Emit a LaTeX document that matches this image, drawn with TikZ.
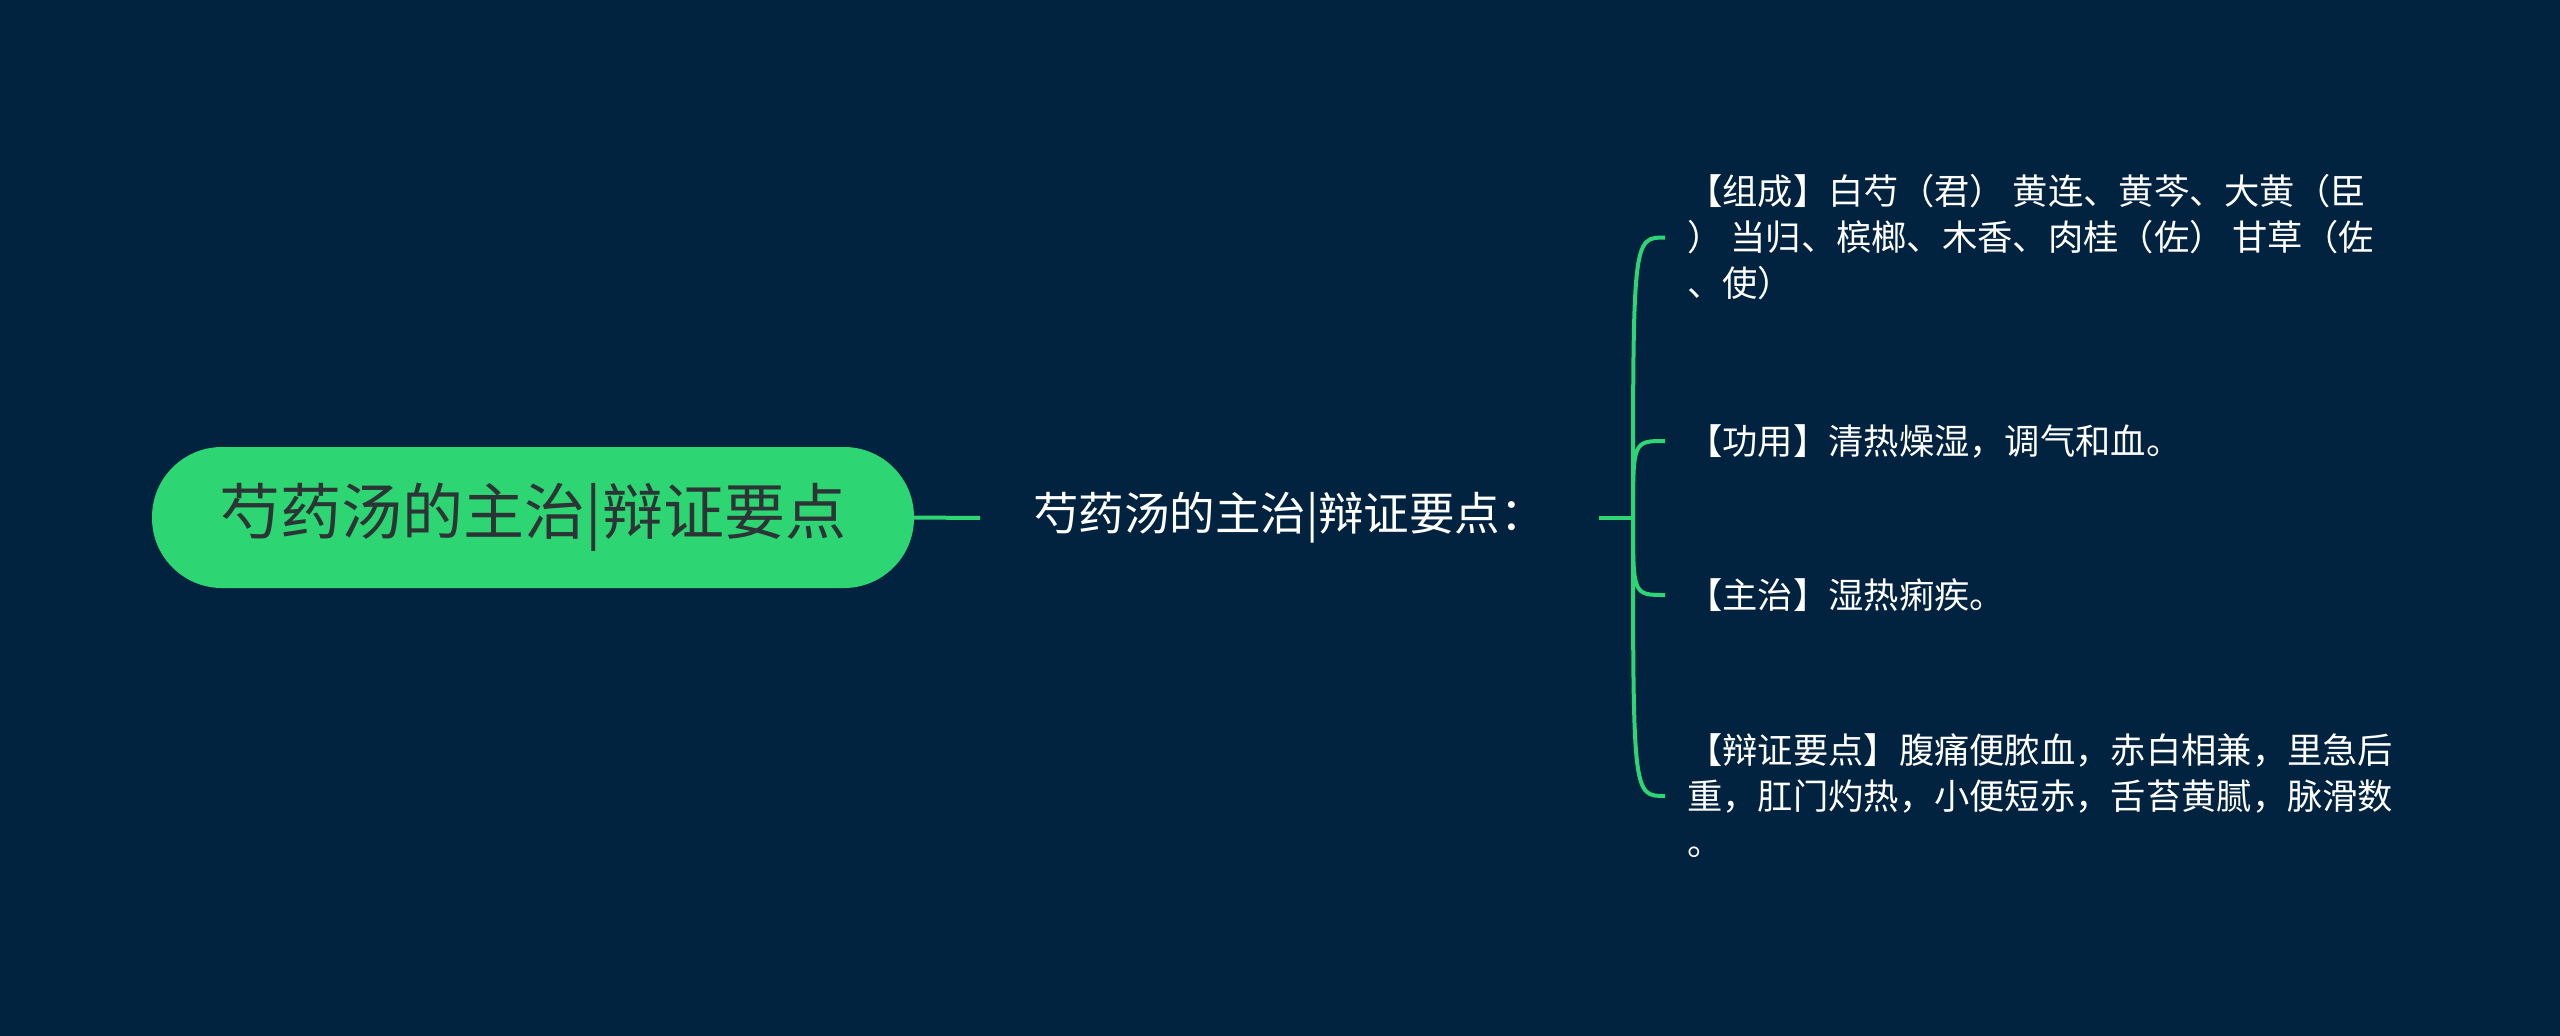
\documentclass[tikz,border=0pt]{standalone}
\usepackage{fontspec}
\newfontfamily\cjk{Noto Sans CJK SC}
\definecolor{bg}{HTML}{012340}
\definecolor{brgreen}{HTML}{2ED573}
\definecolor{roottext}{HTML}{2D3436}
\begin{document}
\begin{tikzpicture}[x=1pt,y=-1pt,
  rootnode/.style={fill=brgreen, rounded corners=70pt, minimum width=762pt, minimum height=141pt,
    text=roottext, font=\cjk\fontsize{61}{72}\selectfont, inner sep=0pt},
  midnode/.style={text=white, font=\cjk\fontsize{45.5}{54}\selectfont, inner xsep=53pt, inner ysep=0pt},
  leafnode/.style={text=white, font=\cjk\fontsize{35.3}{46}\selectfont, align=left,
    inner xsep=22pt, inner ysep=0pt, anchor=west},
  link/.style={draw=brgreen, line width=4pt}]
\fill[bg] (0,0) rectangle (2560,1036);
\useasboundingbox (0,0) rectangle (2560,1036);

\node[rootnode] (root) at (533,517.5) {芍药汤的主治|辩证要点};
\node[midnode, anchor=west] (mid) at (980,518) {芍药汤的主治|辩证要点：};
\coordinate (J) at (1633,518);

\node[leafnode] (c1) at (1665,237.5) {【组成】白芍（君） 黄连、黄芩、大黄（臣\\） 当归、槟榔、木香、肉桂（佐） 甘草（佐\\、使）};
\node[leafnode] (c2) at (1665,441) {【功用】清热燥湿，调气和血。};
\node[leafnode] (c3) at (1665,595) {【主治】湿热痢疾。};
\node[leafnode] (c4) at (1665,796) {【辩证要点】腹痛便脓血，赤白相兼，里急后\\重，肛门灼热，小便短赤，舌苔黄腻，脉滑数\\。};

\draw[link] (root.east) -- (mid.west);
\draw[link] (mid.east) -- (J);
\foreach \c in {c1,c2,c3,c4}
  \draw[link] (J) .. controls (J |- \c.west) .. (\c.west);
\end{tikzpicture}
\end{document}
